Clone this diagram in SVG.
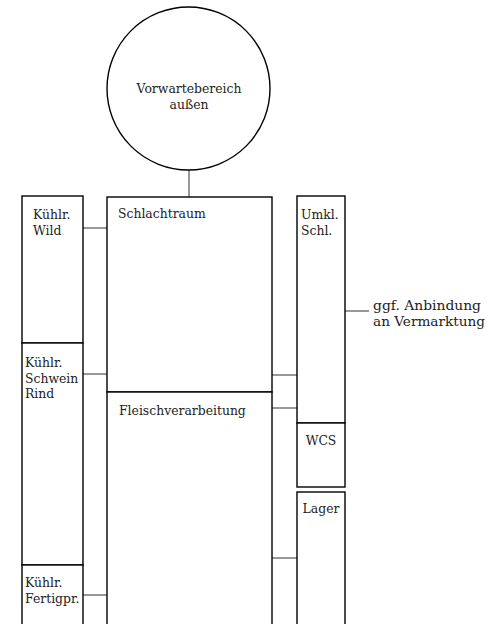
<svg xmlns="http://www.w3.org/2000/svg" width="487" height="624" viewBox="0 0 487 624">
<style>
.box{fill:#fff;stroke:#000;stroke-width:1.4}
.conn line{stroke:#333;stroke-width:1}
text{font-family:"DejaVu Serif","Liberation Serif",serif;font-size:12.4px;fill:#222}
.c{text-anchor:middle}
</style>
<rect width="487" height="624" fill="#fff"/>
<g id="conns" class="conn">
<line x1="189" y1="170" x2="189" y2="197"/>
<line x1="83" y1="228" x2="107" y2="228"/>
<line x1="83" y1="374" x2="107" y2="374"/>
<line x1="83" y1="595" x2="107" y2="595"/>
<line x1="272" y1="375" x2="297" y2="375"/>
<line x1="272" y1="408" x2="297" y2="408"/>
<line x1="272" y1="558" x2="297" y2="558"/>
<line x1="345" y1="311" x2="369" y2="311"/>
</g>
<g id="vorwarte">
<circle class="box" cx="188.5" cy="88.5" r="81.5"/>
<text class="c" x="189" y="93">Vorwartebereich</text>
<text class="c" x="189" y="109">außen</text>
</g>
<g id="wild">
<rect class="box" x="22" y="196" width="61" height="147"/>
<text x="33" y="219">Kühlr.</text>
<text x="33" y="235">Wild</text>
</g>
<g id="schwein">
<rect class="box" x="22" y="343" width="61" height="222"/>
<text x="25" y="367">Kühlr.</text>
<text x="25" y="383">Schwein</text>
<text x="25" y="398">Rind</text>
</g>
<g id="fertig">
<rect class="box" x="22" y="565" width="61" height="70"/>
<text x="25" y="587">Kühlr.</text>
<text x="25" y="603">Fertigpr.</text>
</g>
<g id="schlachtraum">
<rect class="box" x="107" y="197" width="165" height="195"/>
<text x="118" y="218">Schlachtraum</text>
</g>
<g id="fleisch">
<rect class="box" x="107" y="392" width="165" height="243"/>
<text x="119" y="415">Fleischverarbeitung</text>
</g>
<g id="umkl">
<rect class="box" x="297" y="196" width="48" height="227"/>
<text x="301" y="219">Umkl.</text>
<text x="301" y="235">Schl.</text>
</g>
<g id="wcs">
<rect class="box" x="297" y="423" width="48" height="64"/>
<text class="c" x="321" y="445">WCS</text>
</g>
<g id="lager">
<rect class="box" x="297" y="492" width="48" height="143"/>
<text class="c" x="321" y="513">Lager</text>
</g>
<g id="vermarktung">
<text x="373" y="310" textLength="108" lengthAdjust="spacingAndGlyphs">ggf. Anbindung</text>
<text x="373" y="326" textLength="112" lengthAdjust="spacingAndGlyphs">an Vermarktung</text>
</g>
</svg>
